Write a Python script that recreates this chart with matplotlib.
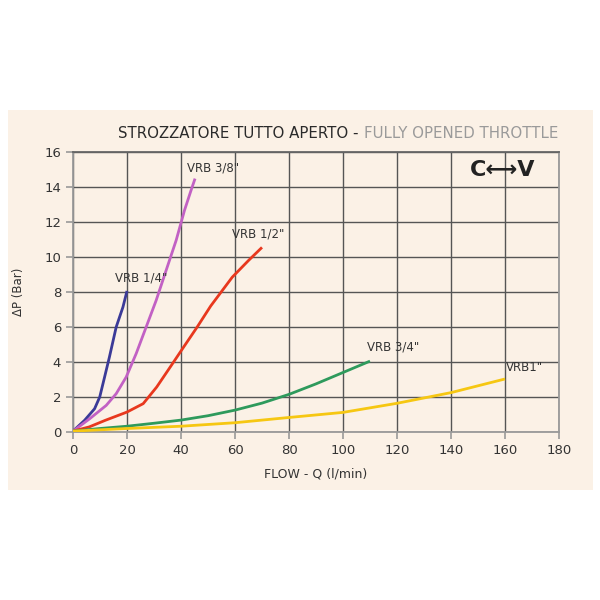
import matplotlib
matplotlib.use("Agg")
import matplotlib.pyplot as plt
from matplotlib.patches import Rectangle

# Data
q_14 = [0, 4.3, 8, 9.9, 11.7, 13.5, 16, 18.5, 20]
dp_14 = [0.05, 0.67, 1.33, 2.0, 3.14, 4.29, 6.0, 7.14, 8.06]

q_38 = [0, 6.2, 12.3, 16, 19.7, 23.4, 27.1, 30.8, 34.5, 38.2, 41.3, 43.7, 45.2]
dp_38 = [0.05, 0.76, 1.52, 2.19, 3.14, 4.48, 6.0, 7.52, 9.24, 10.95, 12.67, 13.8, 14.48]

q_12 = [0, 6, 12, 20, 26, 31, 36, 41, 46, 51, 59, 65, 70]
dp_12 = [0.05, 0.29, 0.67, 1.14, 1.62, 2.57, 3.71, 4.86, 6.0, 7.2, 8.85, 9.8, 10.55]

q_34 = [0, 10, 20, 30, 40, 50, 60, 70, 80, 90, 100, 110]
dp_34 = [0.05, 0.2, 0.33, 0.5, 0.68, 0.93, 1.25, 1.65, 2.15, 2.75, 3.4, 4.05]

q_1 = [0, 20, 40, 60, 80, 100, 120, 140, 160]
dp_1 = [0.05, 0.2, 0.33, 0.53, 0.83, 1.12, 1.64, 2.25, 3.03]

series = [
    (q_14, dp_14, "#3b3a98", 'VRB 1/4"', (15.5, 8.8)),
    (q_38, dp_38, "#c261c4", 'VRB 3/8"', (42.2, 15.1)),
    (q_12, dp_12, "#e8381e", 'VRB 1/2"', (58.9, 11.3)),
    (q_34, dp_34, "#2e9a5c", 'VRB 3/4"', (109.0, 4.86)),
    (q_1, dp_1, "#f6c712", 'VRB1"', (160.4, 3.7)),
]

x_ticks = list(range(0, 181, 20))
y_ticks = list(range(0, 17, 2))

bg = "#fbf1e6"
fig = plt.figure(figsize=(6, 6), dpi=100)
fig.patch.set_facecolor("white")
fig.patches.append(Rectangle((8 / 600, 110 / 600), 585 / 600, 380 / 600,
                             transform=fig.transFigure, facecolor=bg,
                             edgecolor="none", zorder=-10))

ax = fig.add_axes([73 / 600, 168 / 600, 486 / 600, 280 / 600])
ax.set_zorder(1)
ax.set_facecolor(bg)
ax.set_xlim(0, 180)
ax.set_ylim(0, 16)
ax.set_xticks(x_ticks)
ax.set_yticks(y_ticks)
ax.grid(True, color="#555555", linewidth=1.0)
ax.set_axisbelow(True)
for s in ax.spines.values():
    s.set_color("#999999")
    s.set_linewidth(1.3)
ax.spines["top"].set_color("#666666")
ax.tick_params(colors="#999999", labelcolor="#333333", labelsize=9.5,
               length=5, width=1.2, direction="out")

for q, dp, c, lab, pos in series:
    ax.plot(q, dp, color=c, linewidth=2.0, solid_capstyle="butt",
            solid_joinstyle="round", zorder=3)
    ax.text(pos[0], pos[1], lab, fontsize=8.5, color="#333333",
            ha="left", va="center", zorder=4)

ax.set_xlabel("FLOW - Q (l/min)", fontsize=9, color="#333333", labelpad=8)
ax.set_ylabel("ΔP (Bar)", fontsize=8.5, color="#333333", labelpad=14)

# Title in two colours, right aligned
t2 = fig.text(558 / 600, 1 - 133 / 600, "FULLY OPENED THROTTLE", fontsize=10.8,
              color="#9a9a9a", ha="right", va="center", zorder=5)
fig.canvas.draw()
bb = t2.get_window_extent()
fig.text(bb.x0 / fig.bbox.width, 1 - 133 / 600, "STROZZATORE TUTTO APERTO - ",
         fontsize=10.8, color="#2a2a2a", ha="right", va="center", zorder=5)

ax.text(0.885, 0.936, "C⟷V", transform=ax.transAxes, fontsize=16,
        fontweight="bold", color="#222222", ha="center", va="center")

fig.savefig("out.png", dpi=100, facecolor="white")
